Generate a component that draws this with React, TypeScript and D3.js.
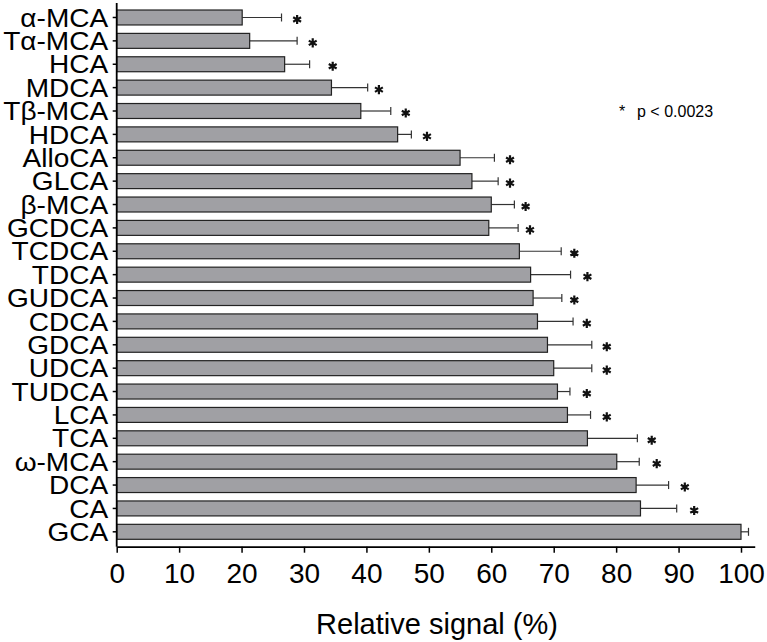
import React, { useEffect, useRef } from 'react';
import * as d3 from 'd3';

// bile acids, top to bottom
const acids = ['α-MCA', 'Tα-MCA', 'HCA', 'MDCA', 'Tβ-MCA', 'HDCA', 'AlloCA', 'GLCA', 'β-MCA', 'GCDCA',
  'TCDCA', 'TDCA', 'GUDCA', 'CDCA', 'GDCA', 'UDCA', 'TUDCA', 'LCA', 'TCA', 'ω-MCA', 'DCA', 'CA', 'GCA'];
const signal = [20.1, 21.3, 26.9, 34.4, 39.1, 45.0, 55.0, 56.9, 60.0, 59.6,
  64.5, 66.3, 66.7, 67.4, 69.0, 70.0, 70.6, 72.2, 75.4, 80.1, 83.2, 83.9, 100];
const errUp = [6.3, 7.6, 4.0, 5.8, 4.8, 2.2, 5.5, 4.2, 3.7, 4.7,
  6.7, 6.4, 4.6, 5.7, 7.1, 6.1, 2.0, 3.7, 8.0, 3.6, 5.2, 5.8, 1.2];
// where the significance star sits, in % units (null = no star)
const starAt = [28.9, 31.4, 34.6, 42.0, 46.3, 49.7, 63.0, 63.0, 65.5, 66.2,
  73.3, 75.4, 73.3, 75.3, 78.5, 78.5, 75.3, 78.5, 85.7, 86.5, 91.0, 92.5, null];
const xTicks = [0, 10, 20, 30, 40, 50, 60, 70, 80, 90, 100];

const FONT = '"Liberation Sans", Arial, Helvetica, sans-serif';

const App = () => {
  const ref = useRef<SVGSVGElement>(null);
  const width = 767, height = 642;

  useEffect(() => {
    const svg = d3.select(ref.current);
    svg.selectAll('*').remove();

    const x = d3.scaleLinear().domain([0, 102.2]).range([116.7, 116.7 + 102.2 * 6.243]);
    const y = d3.scaleBand<string>()
      .domain(acids)
      .range([5.8, 543.5])
      .paddingInner(0.36)
      .paddingOuter(0.18);
    const axisY = 546.7;

    const rows = acids.map((name, i) => ({ name, v: signal[i], e: errUp[i], s: starAt[i] }));

    // error bars (drawn first so bars cover their start)
    const eb = svg.append('g').attr('stroke', '#333').attr('stroke-width', 1.2);
    rows.forEach(d => {
      const cy = y(d.name)! + y.bandwidth() / 2;
      eb.append('line').attr('x1', x(d.v)).attr('x2', x(d.v + d.e)).attr('y1', cy).attr('y2', cy);
      eb.append('line').attr('x1', x(d.v + d.e)).attr('x2', x(d.v + d.e)).attr('y1', cy - 4).attr('y2', cy + 4);
    });

    svg.append('g')
      .selectAll('rect')
      .data(rows)
      .enter()
      .append('rect')
      .attr('x', x(0))
      .attr('y', d => y(d.name)!)
      .attr('width', d => x(d.v) - x(0))
      .attr('height', y.bandwidth())
      .attr('fill', '#a0a0a4')
      .attr('stroke', '#222')
      .attr('stroke-width', 1.2);

    // stars
    const star = d3.symbol().type(d3.symbolAsterisk).size(58);
    svg.append('g')
      .selectAll('path')
      .data(rows.filter(d => d.s !== null))
      .enter()
      .append('path')
      .attr('d', star as any)
      .attr('transform', d => `translate(${x(d.s as number)},${y(d.name)! + y.bandwidth() / 2 + 2})`)
      .attr('fill', 'none')
      .attr('stroke', '#111')
      .attr('stroke-width', 2.2);

    // y axis
    const gy = svg.append('g')
      .attr('transform', `translate(${x(0)},0)`)
      .call(d3.axisLeft(y).tickSize(4).tickPadding(0).tickSizeOuter(0));
    gy.select('.domain').remove();
    gy.selectAll('line').attr('stroke', '#000').attr('stroke-width', 1.5);
    gy.selectAll('text')
      .attr('x', 0)
      .attr('dy', '0.36em')
      .attr('transform', 'translate(-8.5,0) scale(1.1,1)')
      .style('font-family', FONT)
      .style('font-size', '25.5px')
      .attr('fill', '#000');
    svg.append('line')
      .attr('x1', x(0)).attr('x2', x(0))
      .attr('y1', 3).attr('y2', axisY)
      .attr('stroke', '#000').attr('stroke-width', 1.8);

    // x axis
    const gx = svg.append('g')
      .attr('transform', `translate(0,${axisY})`)
      .call(d3.axisBottom(x).tickValues(xTicks).tickSize(6).tickPadding(10).tickSizeOuter(0));
    gx.select('.domain').attr('stroke', '#000').attr('stroke-width', 1.8);
    gx.selectAll('line').attr('stroke', '#000').attr('stroke-width', 1.5);
    gx.selectAll('text')
      .style('font-family', FONT)
      .style('font-size', '28px')
      .attr('fill', '#000');

    svg.append('text')
      .attr('x', 437)
      .attr('y', 634)
      .attr('text-anchor', 'middle')
      .style('font-family', FONT)
      .style('font-size', '29px')
      .text('Relative signal (%)');

    // legend
    svg.append('text')
      .attr('x', 619)
      .attr('y', 117)
      .style('font-family', FONT)
      .style('font-size', '16px')
      .text('*');
    svg.append('text')
      .attr('x', 637)
      .attr('y', 117)
      .style('font-family', FONT)
      .style('font-size', '16px')
      .text('p < 0.0023');
  }, []);

  return (
    <svg ref={ref} width={width} height={height}
      style={{ position: 'absolute', left: 0, top: 0, background: '#fff' }} />
  );
};

export default App;
